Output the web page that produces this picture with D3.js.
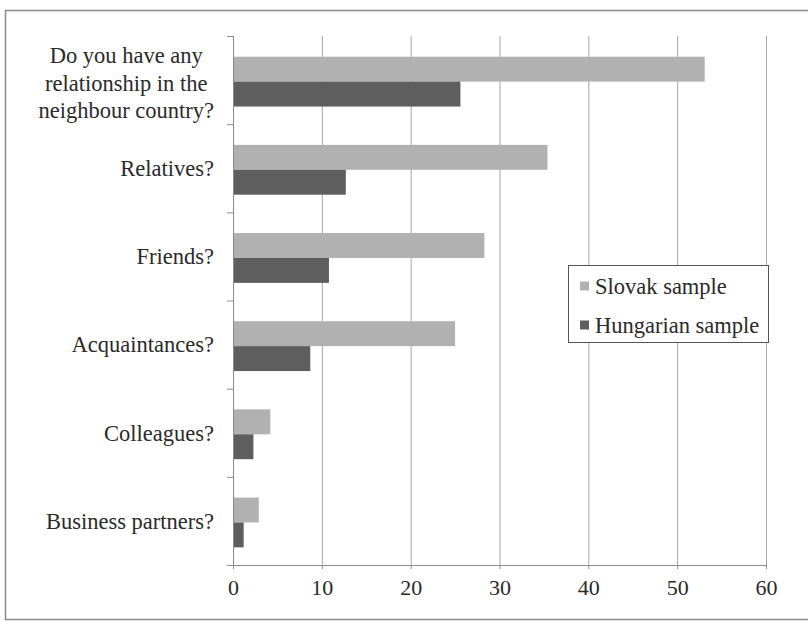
<!DOCTYPE html>
<html>
<head>
<meta charset="utf-8">
<script src="https://cdn.jsdelivr.net/npm/d3@7"></script>
<style>
  body { margin: 0; background: #fff; }
  svg { display: block; }
</style>
</head>
<body>
<div id="chart"></div>
<script>
// categories, top to bottom (\n marks a label line break)
var categories = [
    "Do you have any\nrelationship in the\nneighbour country?",
    "Relatives?",
    "Friends?",
    "Acquaintances?",
    "Colleagues?",
    "Business partners?"
];
var seriesNames = ["Slovak sample", "Hungarian sample"];
var slovakValues = [53.1, 35.4, 28.3, 25.0, 4.2, 2.9];
var hungarianValues = [25.6, 12.7, 10.8, 8.7, 2.3, 1.2];
var xTicks = [0, 10, 20, 30, 40, 50, 60];
var seriesColors = ["#b1b1b1", "#5e5e5e"];

var W = 808, H = 628;
var margin = { top: 36, right: 42, bottom: 63, left: 233 };
var width = W - margin.left - margin.right;
var height = H - margin.top - margin.bottom;
var fontStack = "'Liberation Serif', 'Times New Roman', serif";
var textColor = "#2a2a2a";

var svg = d3.select("#chart").append("svg")
    .attr("width", W)
    .attr("height", H)
    .style("font-family", fontStack);

// outer frame
svg.append("rect")
    .attr("x", 5.5).attr("y", 10.5)
    .attr("width", W + 10).attr("height", 609)
    .attr("fill", "none")
    .attr("stroke", "#8a8a8a")
    .attr("stroke-width", 1.5);

var g = svg.append("g")
    .attr("transform", "translate(" + margin.left + "," + margin.top + ")");

var x = d3.scaleLinear().domain([0, 60]).range([0, width]);

var y = d3.scaleBand().domain(categories).range([0, height]).padding(0);

// each group holds two bars filling the middle of the band
var bw = y.bandwidth();
var ySub = d3.scaleBand()
    .domain(seriesNames)
    .range([bw * 0.235, bw * 0.8]);

// gridlines
g.append("g")
    .selectAll("line")
    .data(xTicks.slice(1))
    .enter().append("line")
    .attr("x1", function (d) { return x(d) + 0.5; })
    .attr("x2", function (d) { return x(d) + 0.5; })
    .attr("y1", 0)
    .attr("y2", height)
    .attr("stroke", "#a6a6a6")
    .attr("stroke-width", 1);

// bars
var rows = categories.map(function (c, i) {
    return { cat: c, values: [slovakValues[i], hungarianValues[i]] };
});

var groups = g.selectAll(".grp")
    .data(rows)
    .enter().append("g")
    .attr("class", "grp")
    .attr("transform", function (d) { return "translate(0," + y(d.cat) + ")"; });

groups.selectAll("rect")
    .data(function (d) {
        return d.values.map(function (v, k) { return { name: seriesNames[k], value: v, k: k }; });
    })
    .enter().append("rect")
    .attr("x", x(0))
    .attr("y", function (d) { return ySub(d.name); })
    .attr("width", function (d) { return x(d.value) - x(0); })
    .attr("height", ySub.bandwidth())
    .attr("fill", function (d) { return seriesColors[d.k]; });

// y axis line and ticks at band boundaries
var boundaries = d3.range(categories.length + 1).map(function (i) { return i * bw; });
g.append("line")
    .attr("x1", 0.5).attr("x2", 0.5)
    .attr("y1", 0).attr("y2", height)
    .attr("stroke", "#8c8c8c");
g.append("g").selectAll("line")
    .data(boundaries)
    .enter().append("line")
    .attr("x1", -6).attr("x2", 0)
    .attr("y1", function (d) { return d + 0.5; })
    .attr("y2", function (d) { return d + 0.5; })
    .attr("stroke", "#8c8c8c");

// x axis
var xaxis = g.append("g")
    .attr("transform", "translate(0," + height + ")")
    .call(d3.axisBottom(x).tickValues(xTicks).tickSize(4).tickPadding(10));
xaxis.select(".domain").attr("stroke", "#8c8c8c");
xaxis.selectAll(".tick line").attr("stroke", "#8c8c8c");
xaxis.selectAll("text")
    .attr("font-size", "22px")
    .attr("font-family", fontStack)
    .attr("fill", textColor);

// category labels: single lines right aligned, wrapped ones centred as a block
var lineH = 27.5;
var labelRight = -19;
g.append("g").selectAll("text")
    .data(categories)
    .enter().append("text")
    .attr("font-size", "22.5px")
    .attr("fill", textColor)
    .each(function (d) {
        var lines = d.split("\n");
        var cy = y(d) + bw / 2 + (lines.length > 1 ? 3 : 0);
        var t = d3.select(this);
        var spans = lines.map(function (ln, i) {
            return t.append("tspan")
                .attr("y", cy + (i - (lines.length - 1) / 2) * lineH)
                .attr("dy", "0.35em")
                .text(ln);
        });
        if (lines.length === 1) {
            t.attr("text-anchor", "end");
            spans[0].attr("x", labelRight);
        } else {
            var maxW = d3.max(spans, function (s) { return s.node().getComputedTextLength(); });
            t.attr("text-anchor", "middle");
            spans.forEach(function (s) { s.attr("x", labelRight - maxW / 2); });
        }
    });

// legend
var legend = svg.append("g").attr("transform", "translate(568,265)");
legend.append("rect")
    .attr("x", 0.5).attr("y", 0.5)
    .attr("width", 200).attr("height", 77)
    .attr("fill", "#fff")
    .attr("stroke", "#555");
seriesNames.forEach(function (name, i) {
    var ly = 21 + i * 39;
    legend.append("rect")
        .attr("x", 12).attr("y", ly - 4.5)
        .attr("width", 9).attr("height", 9)
        .attr("fill", seriesColors[i]);
    legend.append("text")
        .attr("x", 27).attr("y", ly)
        .attr("dy", "0.35em")
        .attr("font-size", "22.5px")
        .attr("fill", textColor)
        .text(name);
});
</script>
</body>
</html>
